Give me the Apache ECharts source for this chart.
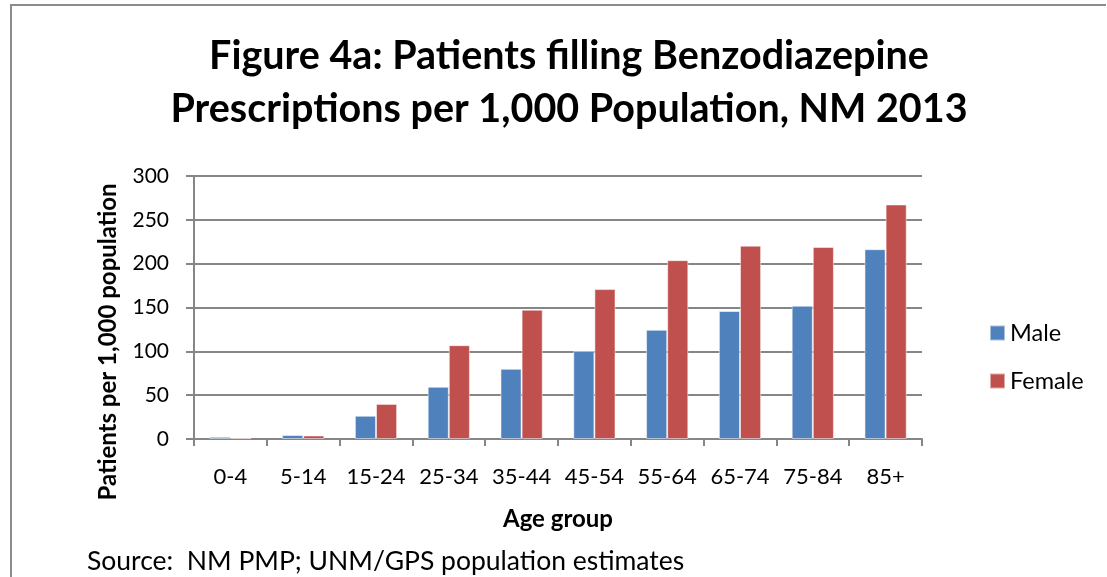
<!DOCTYPE html>
<html>
<head>
<meta charset="utf-8">
<script src="https://cdn.jsdelivr.net/npm/echarts@6/dist/echarts.min.js"></script>
<style>
html,body{margin:0;padding:0;background:#fff;}
#chart{width:1107px;height:577px;}
</style>
</head>
<body>
<div id="chart"></div>
<script>
const categories = ['0-4','5-14','15-24','25-34','35-44','45-54','55-64','65-74','75-84','85+'];
const maleValues = [2.5, 4.5, 26.5, 59.5, 80, 100.5, 124.5, 146, 152, 216.5];
const femaleValues = [1.5, 4, 40, 107, 147.5, 171, 204, 220.5, 219, 267.5];
const seriesNames = ['Male', 'Female'];
const yTicks = {min: 0, max: 300, interval: 50};

const FONT = 'Lato';
const chart = echarts.init(document.getElementById('chart'), null, {renderer: 'canvas'});
chart.setOption({
  animation: false,
  backgroundColor: '#fff',
  title: {
    text: 'Figure 4a: Patients filling Benzodiazepine\nPrescriptions per 1,000 Population, NM 2013',
    left: 564, top: 25, textAlign: 'center',
    textStyle: {fontFamily: FONT, fontWeight: 'bold', fontSize: 39.5, lineHeight: 53, color: '#000'}
  },
  legend: {
    orient: 'vertical', left: 984, top: 316, itemGap: 24,
    itemWidth: 15, itemHeight: 15, icon: 'rect',
    textStyle: {fontFamily: FONT, fontSize: 23.5, color: '#000'},
    data: seriesNames
  },
  grid: {left: 194, right: 185, top: 176, bottom: 138, containLabel: false},
  xAxis: {
    type: 'category', data: categories,
    axisLine: {lineStyle: {color: '#868686', width: 2}},
    axisTick: {show: true, length: 7, alignWithLabel: false, lineStyle: {color: '#868686', width: 2}},
    axisLabel: {fontFamily: FONT, fontSize: 22, color: '#000', margin: 27, interval: 0},
    name: 'Age group', nameLocation: 'middle', nameGap: 68,
    nameTextStyle: {fontFamily: FONT, fontWeight: 'bold', fontSize: 24, color: '#000'}
  },
  yAxis: {
    type: 'value', min: yTicks.min, max: yTicks.max, interval: yTicks.interval,
    axisLine: {show: true, lineStyle: {color: '#868686', width: 2}},
    axisTick: {show: true, length: 8, lineStyle: {color: '#868686', width: 2}},
    splitLine: {lineStyle: {color: '#868686', width: 2}},
    axisLabel: {fontFamily: FONT, fontSize: 21, color: '#000', margin: 25}
  },
  series: [
    {name: seriesNames[0], type: 'bar', data: maleValues, barGap: '0%', barCategoryGap: '42%',
     itemStyle: {color: '#4F81BD', borderColor: 'rgba(255,255,255,0.5)', borderWidth: 1}},
    {name: seriesNames[1], type: 'bar', data: femaleValues, barGap: '0%', barCategoryGap: '42%',
     itemStyle: {color: '#C0504D', borderColor: 'rgba(255,255,255,0.5)', borderWidth: 1}}
  ],
  graphic: [
    {type: 'polyline', shape: {points: [[11, 577], [11, 5], [1106, 5]]},
     style: {stroke: '#8c8c8c', lineWidth: 2, fill: null}},
    {type: 'text', x: 108, y: 342, rotation: Math.PI / 2,
     style: {text: 'Patients per 1,000 population', fontFamily: FONT, fontWeight: 'bold', fontSize: 24,
             fill: '#000', align: 'center', verticalAlign: 'middle'}},
    {type: 'text', x: 87, y: 561,
     style: {text: 'Source:  NM PMP; UNM/GPS population estimates', fontFamily: FONT, fontSize: 26.5,
             fill: '#000', align: 'left', verticalAlign: 'middle'}}
  ]
});
</script>
</body>
</html>
